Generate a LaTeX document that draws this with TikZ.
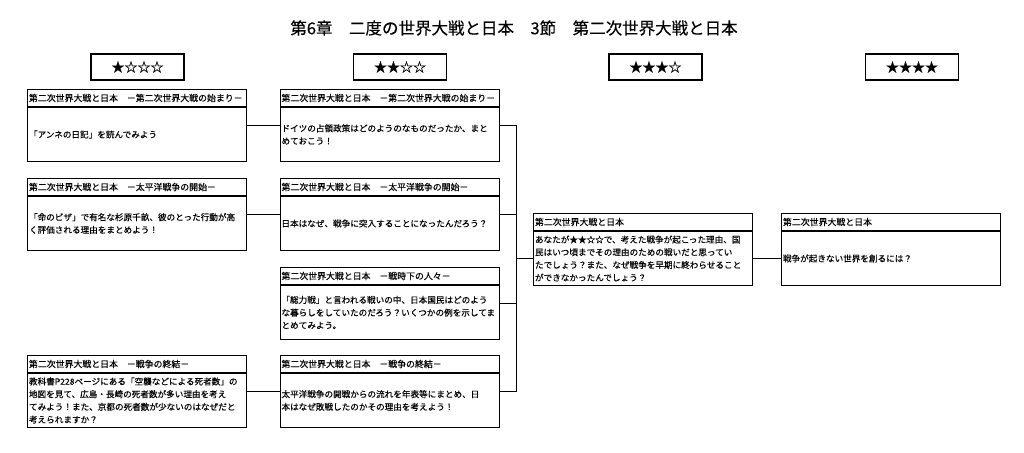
\documentclass[tikz,border=0pt]{standalone}
\usepackage{fontspec}
\usetikzlibrary{positioning,calc}
\newfontfamily\jpfont[FakeBold=0.3]{Noto Sans CJK JP}
\newcommand{\unit}{第二次世界大戦と日本}

\begin{document}
\begin{tikzpicture}[x=1pt,y=-1pt,
    cardhead/.style={draw, line width=1pt, anchor=north west, text width=216pt, inner xsep=1.5pt, inner ysep=0pt,
      minimum height=17pt, align=left, font=\jpfont\fontsize{8.9}{10}\selectfont},
    cardbody/.style={draw, line width=1pt, text width=216pt, inner xsep=1.5pt, inner ysep=0pt,
      minimum height=54pt, align=left, font=\jpfont\fontsize{8.6}{12.7}\selectfont},
    starbox/.style={draw, line width=1.8pt, minimum width=93pt, minimum height=26pt, font=\jpfont\fontsize{13}{13}\selectfont},
    link/.style={line width=1pt}]
    \useasboundingbox (0,0) rectangle (1024,452);
    \node[font=\jpfont\fontsize{16.5}{16.5}\selectfont] (title) at (514,28) {第6章　二度の世界大戦と日本　3節　第二次世界大戦と日本};
    % level boxes
    \node[starbox] (lv1) at (137.5,67) {★☆☆☆};
    \node[starbox] (lv2) at (400,67) {★★☆☆};
    \node[starbox] (lv3) at (655.5,67) {★★★☆};
    \node[starbox] (lv4) at (912,67) {★★★★};
    % column 1
    \node[cardhead] (c11h) at (27,89) {\unit　－第二次世界大戦の始まり－};
    \node[cardbody, below=0pt of c11h] (c11) {「アンネの日記」を読んでみよう};
    \node[cardhead] (c12h) at (27,178) {\unit　－太平洋戦争の開始－};
    \node[cardbody, below=0pt of c12h] (c12) {「命のビザ」で有名な杉原千畝、彼のとった行動が高\\く評価される理由をまとめよう！};
    \node[cardhead] (c14h) at (27,355) {\unit　－戦争の終結－};
    \node[cardbody, below=0pt of c14h] (c14) {教科書P228ページにある「空襲などによる死者数」の\\地図を見て、広島・長崎の死者数が多い理由を考え\\てみよう！また、京都の死者数が少ないのはなぜだと\\考えられますか？};
    % column 2
    \node[cardhead] (c21h) at (279.5,89) {\unit　－第二次世界大戦の始まり－};
    \node[cardbody, below=0pt of c21h] (c21) {ドイツの占領政策はどのようのなものだったか、まと\\めておこう！};
    \node[cardhead] (c22h) at (279.5,178) {\unit　－太平洋戦争の開始－};
    \node[cardbody, below=0pt of c22h] (c22) {日本はなぜ、戦争に突入することになったんだろう？};
    \node[cardhead] (c23h) at (279.5,267) {\unit　－戦時下の人々－};
    \node[cardbody, below=0pt of c23h] (c23) {「総力戦」と言われる戦いの中、日本国民はどのよう\\な暮らしをしていたのだろう？いくつかの例を示してま\\とめてみよう。};
    \node[cardhead] (c24h) at (279.5,355) {\unit　－戦争の終結－};
    \node[cardbody, below=0pt of c24h] (c24) {太平洋戦争の開戦からの流れを年表等にまとめ、日\\本はなぜ敗戦したのかその理由を考えよう！};
    % columns 3 and 4
    \node[cardhead] (c3h) at (533,213) {\unit};
    \node[cardbody, below=0pt of c3h] (c3) {あなたが★★☆☆で、考えた戦争が起こった理由、国\\民はいつ頃までその理由のための戦いだと思ってい\\たでしょう？また、なぜ戦争を早期に終わらせること\\ができなかったんでしょう？};
    \node[cardhead] (c4h) at (781,213) {\unit};
    \node[cardbody, below=0pt of c4h] (c4) {戦争が起きない世界を創るには？};
    % card mid points
    \foreach \cid in {c11,c12,c14,c21,c22,c23,c24} {
      \coordinate (\cid l) at ($(\cid h.north west)!.5!(\cid.south west)$);
      \coordinate (\cid r) at ($(\cid h.north east)!.5!(\cid.south east)$);
    }
    % connectors
    \draw[link] (c11r) -- (c21l);
    \draw[link] (c12r) -- (c22l);
    \draw[link] (c14r) -- (c24l);
    \coordinate (bus) at ($(c3.west)+(-17,0)$);
    \foreach \cid in {c21,c22,c23,c24}
      \draw[link] (\cid r) -| (bus);
    \draw[link] (bus) -- (c3.west);
    \draw[link] (c3.east) -- (c4.west);
\end{tikzpicture}
\end{document}
